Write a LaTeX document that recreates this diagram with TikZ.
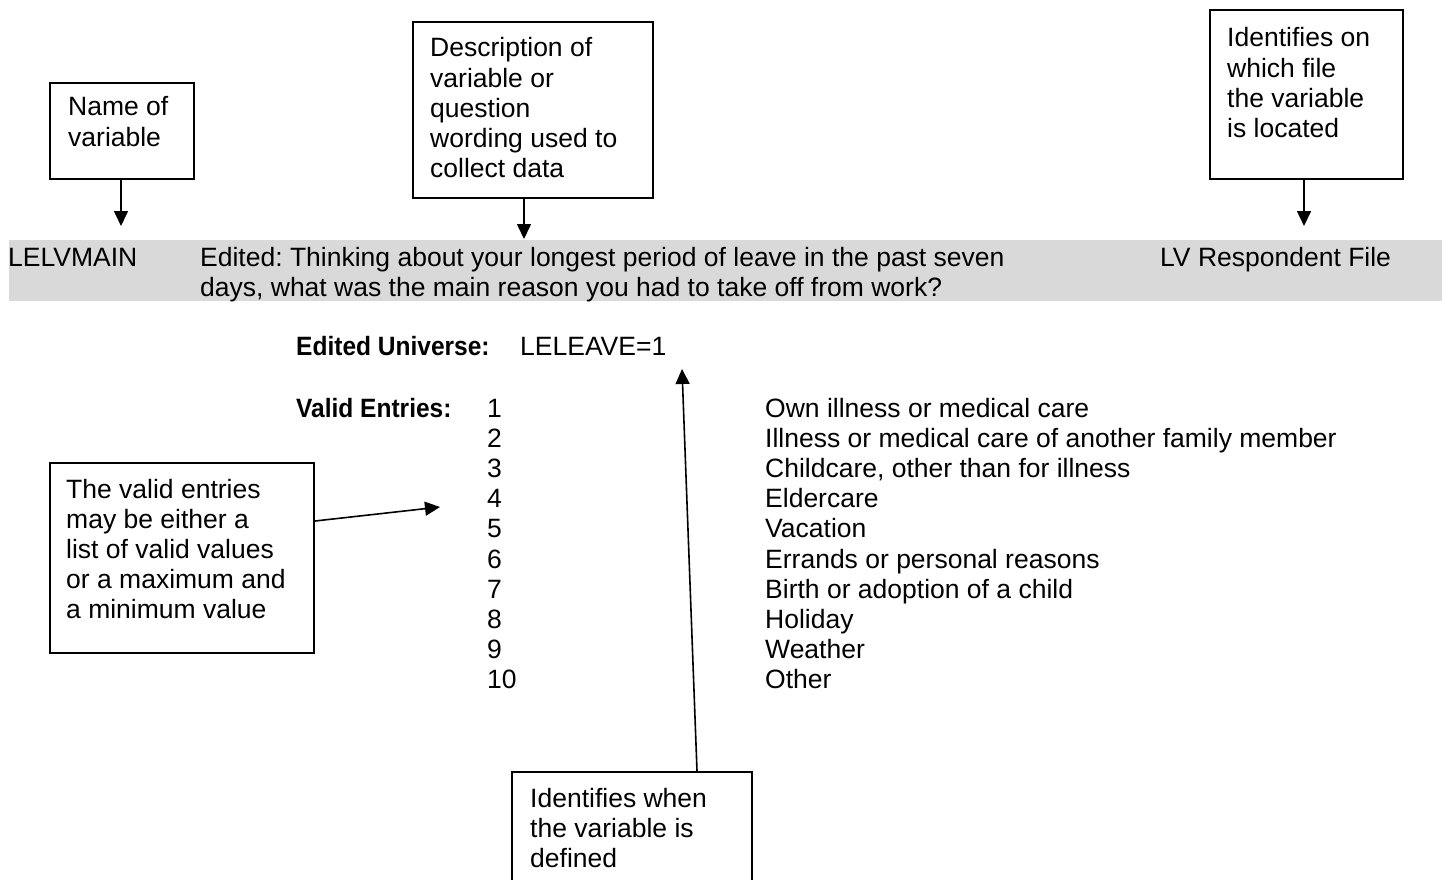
\documentclass[tikz,border=0pt]{standalone}
\usepackage{fontspec}
\setmainfont{Liberation Sans}
\usetikzlibrary{arrows.meta}
\definecolor{bandgray}{HTML}{D9D9D9}
\newcommand{\txtfont}{\fontsize{26.5pt}{30.2pt}\selectfont\frenchspacing}
\newcommand{\lines}[1]{\parbox[t]{1200pt}{\raggedright #1}}
\tikzset{
  box/.style={draw=black, line width=2pt, rectangle, inner sep=0pt, anchor=north west},
  lbl/.style={anchor=base west, inner sep=0pt, font=\txtfont},
  boldlbl/.style={anchor=base west, inner sep=0pt, font=\txtfont\bfseries},
  arr/.style={line width=1.6pt, -{Triangle[length=15pt,width=14pt]}},
}
\begin{document}
\begin{tikzpicture}[x=1pt, y=-1pt]
\useasboundingbox (0,0) rectangle (1442,880);
\clip (0,0) rectangle (1442,880);
\fill[white] (0,0) rectangle (1442,880);

% grey header band
\node[fill=bandgray, inner sep=0pt, minimum width=1433pt, minimum height=61pt, anchor=north west] (band) at (9,240) {};

% header texts
\node[lbl] (vname) at (8,266) {LELVMAIN};
\node[lbl] (vdesc) at (200,266) {\lines{Edited: Thinking about your longest period of leave in the past seven\\days, what was the main reason you had to take off from work?}};
\node[lbl] (vfile) at (1160,266) {LV Respondent File};

% callout boxes
\node[box, minimum width=144pt, minimum height=96pt] (nameb) at (49,82) {};
\node[lbl] (namet) at (68,116) {\lines{Name of\\variable}};

\node[box, minimum width=240pt, minimum height=176pt] (descb) at (412,21) {};
\node[lbl] (desct) at (430,57) {\lines{Description of\\variable or\\question\\wording used to\\collect data}};

\node[box, minimum width=193pt, minimum height=169pt] (fileb) at (1209,9) {};
\node[lbl] (filet) at (1227,47) {\lines{Identifies on\\which file\\the variable\\is located}};

\node[box, minimum width=264pt, minimum height=190pt] (validb) at (49,462) {};
\node[lbl] (validt) at (66,498) {\lines{The valid entries\\may be either a\\list of valid values\\or a maximum and\\a minimum value}};

\node[box, minimum width=240pt, minimum height=140pt] (whenb) at (511,771) {};
\node[lbl] (whent) at (530,807) {\lines{Identifies when\\the variable is\\defined}};

% universe and entries
\node[boldlbl] (univl) at (296,355) {\scalebox{0.925}[1]{Edited Universe:}};
\node[lbl] (univv) at (520,355) {LELEAVE=1};
\node[boldlbl] (entl) at (296,417) {\scalebox{0.925}[1]{Valid Entries:}};
\node[lbl] (codes) at (487,417) {\lines{1\\2\\3\\4\\5\\6\\7\\8\\9\\10}};
\node[lbl] (labels) at (765,417) {\lines{Own illness or medical care\\Illness or medical care of another family member\\Childcare, other than for illness\\Eldercare\\Vacation\\Errands or personal reasons\\Birth or adoption of a child\\Holiday\\Weather\\Other}};

% arrows
\coordinate (t1) at (121,226);
\coordinate (t2) at (524,239);
\coordinate (t3) at (1304,226);
\coordinate (t4) at (440,507);
\coordinate (t5) at (682,369);
\draw[arr] (nameb.south -| t1) -- (t1);
\draw[arr] (descb.south -| t2) -- (t2);
\draw[arr] (fileb.south -| t3) -- (t3);
\draw[arr] ([yshift=37pt]validb.east) -- (t4);
\draw[arr] ([xshift=65pt]whenb.north) -- (t5);
\end{tikzpicture}
\end{document}
